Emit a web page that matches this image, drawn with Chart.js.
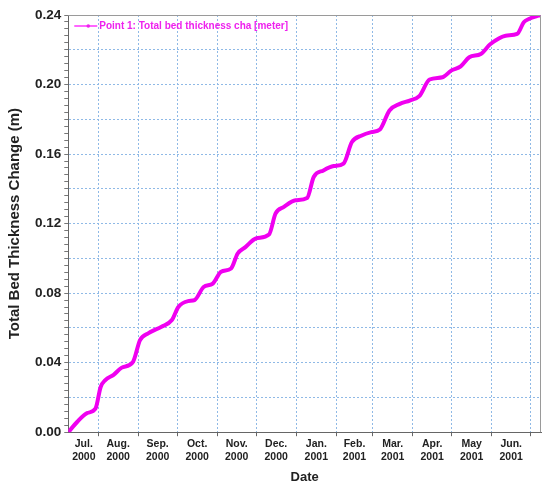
<!DOCTYPE html>
<html>
<head>
<meta charset="utf-8">
<script src="https://cdn.jsdelivr.net/npm/chart.js@4.4.1/dist/chart.umd.min.js"></script>
<style>
  html, body { margin:0; padding:0; background:#fff; }
  #wrap { width:542px; height:485px; }
</style>
</head>
<body>
<div id="wrap"><canvas id="c" width="542" height="485"></canvas></div>
<script>
// days since 9 Jul 2000
const days = [0, 7, 14.5, 21, 25, 28.6, 35, 41, 50, 55.4, 62, 72, 80, 85, 92.5, 97.5, 104.5, 111.6, 118, 125.7,
  130.8, 137, 144.8, 155, 160, 166.5, 175.5, 184.4, 189.5, 197, 205, 212.5, 219, 226.6, 234, 240.6, 248, 256,
  263.6, 271, 279, 289, 295.6, 303, 309.6, 318.5, 326, 337.7, 346.6, 351.7, 355.6, 363, 365];
const thickness = [0.000, 0.006, 0.011, 0.0135, 0.026, 0.030, 0.033, 0.037, 0.0405, 0.053, 0.057, 0.0607, 0.0645,
  0.072, 0.0754, 0.076, 0.0835, 0.0855, 0.0923, 0.0942, 0.1028, 0.1066, 0.1114, 0.1137, 0.1257, 0.1296, 0.1334,
  0.1347, 0.1468, 0.1506, 0.1531, 0.1545, 0.1669, 0.1707, 0.1726, 0.1741, 0.1851, 0.1889, 0.1908, 0.1933, 0.2029,
  0.2042, 0.208, 0.2105, 0.2157, 0.2176, 0.2233, 0.2281, 0.2291, 0.2358, 0.2377, 0.2396, 0.240];

// month boundaries (grid) and month label positions
const monthStarts = [23, 54, 84, 115, 145, 176, 207, 235, 266, 296, 327, 357];
const labelDays   = [12, 38.5, 69, 99.5, 130, 160.5, 191.5, 221, 250.5, 281, 311.5, 342];
const monthLabels = ['Jul.', 'Aug.', 'Sep.', 'Oct.', 'Nov.', 'Dec.', 'Jan.', 'Feb.', 'Mar.', 'Apr.', 'May', 'Jun.'];
const yearLabels  = ['2000', '2000', '2000', '2000', '2000', '2000', '2001', '2001', '2001', '2001', '2001', '2001'];

const seriesLabel = 'Point 1: Total bed thickness cha [meter]';
const GRID = '#8fb9e6';
const FONT = "'Liberation Sans', Arial, sans-serif";

const near = (v, step) => Math.abs(v / step - Math.round(v / step)) < 1e-6;
const isStart = (v) => monthStarts.some(m => Math.abs(m - v) < 1e-6);

const frameLegend = {
  id: 'frameLegend',
  afterDraw(chart) {
    const { ctx, chartArea: a } = chart;
    ctx.save();
    ctx.strokeStyle = '#9a9a9a';
    ctx.lineWidth = 1;
    ctx.beginPath();
    ctx.moveTo(a.left, a.top + 0.5); ctx.lineTo(a.right - 0.5, a.top + 0.5); ctx.lineTo(a.right - 0.5, a.bottom);
    ctx.stroke();
    // legend inside plot, top-left
    const ly = a.top + 11;
    ctx.strokeStyle = '#ff33ff';
    ctx.lineWidth = 1.5;
    ctx.beginPath(); ctx.moveTo(a.left + 6, ly); ctx.lineTo(a.left + 29, ly); ctx.stroke();
    ctx.fillStyle = '#ee22ee';
    ctx.beginPath(); ctx.arc(a.left + 20, ly, 1.8, 0, Math.PI * 2); ctx.fill();
    ctx.font = 'bold 10px ' + FONT;
    ctx.textBaseline = 'middle';
    ctx.fillText(chart.data.datasets[0].label, a.left + 31, ly);
    ctx.restore();
  }
};

new Chart(document.getElementById('c'), {
  type: 'line',
  data: {
    datasets: [{
      label: seriesLabel,
      data: days.map((d, i) => ({ x: d, y: thickness[i] })),
      borderColor: '#f000f0',
      borderWidth: 4,
      pointRadius: 0,
      cubicInterpolationMode: 'monotone',
      fill: false
    }]
  },
  options: {
    responsive: false,
    animation: false,
    layout: { padding: { top: 15, right: 1, left: 6, bottom: 0 } },
    plugins: { legend: { display: false }, tooltip: { enabled: false } },
    scales: {
      x: {
        type: 'linear', min: 0, max: 365,
        afterBuildTicks: (s) => {
          s.ticks = monthStarts.map(v => ({ value: v })).concat(labelDays.map(v => ({ value: v })))
            .sort((p, q) => p.value - q.value);
        },
        ticks: {
          autoSkip: false, maxRotation: 0, padding: 2, color: '#222',
          font: { family: FONT, size: 10.5, weight: 'bold' },
          callback: (v) => {
            const i = labelDays.indexOf(v);
            return i < 0 ? '' : [monthLabels[i], yearLabels[i]];
          }
        },
        grid: {
          color: (c) => (c.tick && isStart(c.tick.value)) ? GRID : 'rgba(0,0,0,0)',
          tickColor: (c) => (c.tick && isStart(c.tick.value)) ? '#666' : 'rgba(0,0,0,0)',
          tickLength: 4, lineWidth: 1
        },
        border: { color: '#666', width: 1, dash: [2, 2] },
        title: { display: true, text: 'Date', color: '#222', font: { family: FONT, size: 13, weight: 'bold' }, padding: { top: 4, bottom: 0 } }
      },
      y: {
        min: 0, max: 0.24,
        ticks: {
          stepSize: 0.004, maxTicksLimit: 100, autoSkip: false, padding: 3, color: '#222',
          font: { family: FONT, size: 13.5, weight: 'bold' },
          callback: (v) => near(v, 0.04) ? v.toFixed(2) : ''
        },
        grid: {
          color: (c) => (c.tick && near(c.tick.value, 0.02)) ? GRID : 'rgba(0,0,0,0)',
          tickColor: '#777', tickLength: 4, lineWidth: 1
        },
        border: { color: '#666', width: 1, dash: [2, 2] },
        title: { display: true, text: 'Total Bed Thickness Change (m)', color: '#222', font: { family: FONT, size: 15, weight: 'bold' }, padding: { top: 0, bottom: 8 } }
      }
    }
  },
  plugins: [frameLegend]
});
</script>
</body>
</html>
